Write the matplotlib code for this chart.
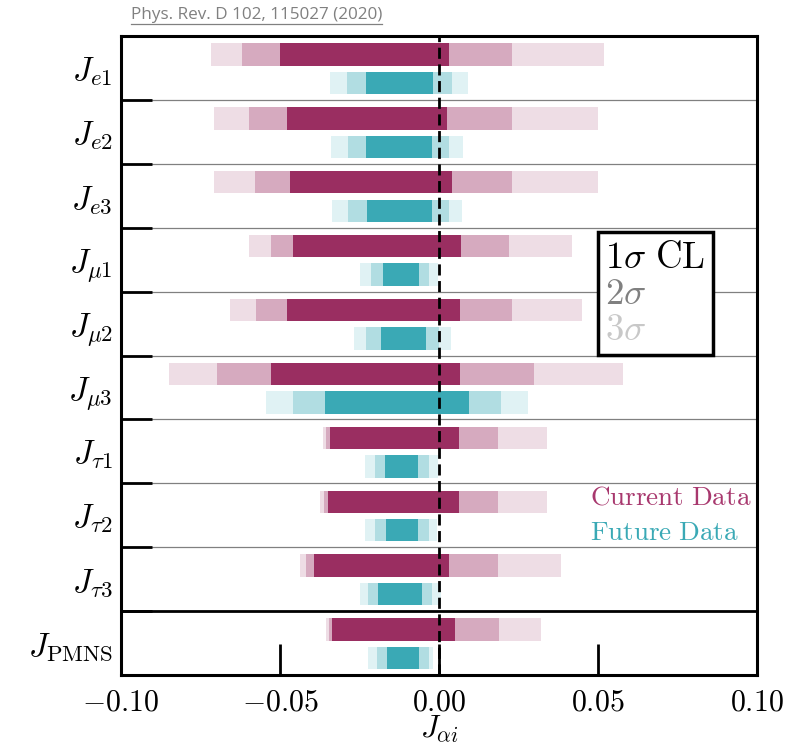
import numpy as np
import matplotlib
matplotlib.use("Agg")
import matplotlib.pyplot as plt
from matplotlib.lines import Line2D

plt.rcParams["mathtext.fontset"] = "cm"
plt.rcParams["font.family"] = ["DejaVu Serif"]

# rows, top to bottom
labels = [r"$J_{e1}$", r"$J_{e2}$", r"$J_{e3}$",
          r"$J_{\mu1}$", r"$J_{\mu2}$", r"$J_{\mu3}$",
          r"$J_{\tau1}$", r"$J_{\tau2}$", r"$J_{\tau3}$",
          r"$J_{\rm PMNS}$"]

# current data intervals
cur_1s_lo = [-0.0499, -0.0479, -0.0469, -0.0459, -0.0479, -0.0529, -0.0343, -0.0349, -0.0393, -0.0335]
cur_1s_hi = [0.0031, 0.0025, 0.0040, 0.0068, 0.0067, 0.0065, 0.0064, 0.0064, 0.0031, 0.0050]
cur_2s_lo = [-0.0618, -0.0598, -0.0579, -0.0529, -0.0574, -0.0698, -0.0354, -0.0362, -0.0418, -0.0346]
cur_2s_hi = [0.0231, 0.0231, 0.0231, 0.0219, 0.0231, 0.0299, 0.0186, 0.0187, 0.0187, 0.0190]
cur_3s_lo = [-0.0716, -0.0708, -0.0708, -0.0598, -0.0658, -0.0849, -0.0365, -0.0373, -0.0438, -0.0354]
cur_3s_hi = [0.0519, 0.0500, 0.0500, 0.0418, 0.0450, 0.0578, 0.0340, 0.0340, 0.0385, 0.0320]

# future data intervals
fut_1s_lo = [-0.0230, -0.0230, -0.0225, -0.0177, -0.0183, -0.0359, -0.0169, -0.0168, -0.0191, -0.0164]
fut_1s_hi = [-0.0018, -0.0022, -0.0022, -0.0063, -0.0040, 0.0094, -0.0065, -0.0066, -0.0054, -0.0064]
fut_2s_lo = [-0.0290, -0.0285, -0.0285, -0.0213, -0.0230, -0.0459, -0.0202, -0.0201, -0.0222, -0.0194]
fut_2s_hi = [0.0042, 0.0030, 0.0030, -0.0030, 0.0000, 0.0194, -0.0031, -0.0032, -0.0023, -0.0031]
fut_3s_lo = [-0.0344, -0.0340, -0.0336, -0.0249, -0.0268, -0.0545, -0.0232, -0.0232, -0.0249, -0.0224]
fut_3s_hi = [0.0090, 0.0075, 0.0071, -0.0003, 0.0039, 0.0279, -0.0003, -0.0006, 0.0006, -0.0018]

cur_colors = ["#9a2e61", "#d6aabf", "#eedde5"]
fut_colors = ["#3aa9b5", "#b1dde2", "#e0f2f4"]

fig = plt.figure(figsize=(7.91, 7.46), dpi=100)
ax = fig.add_axes([0.153, 0.0952, 0.804, 0.8565])

n = len(labels)
rows = np.arange(n)
cur_y = rows + 0.288
fut_y = rows + 0.735
h = 0.35

cur_sets = [(cur_3s_lo, cur_3s_hi), (cur_2s_lo, cur_2s_hi), (cur_1s_lo, cur_1s_hi)]
fut_sets = [(fut_3s_lo, fut_3s_hi), (fut_2s_lo, fut_2s_hi), (fut_1s_lo, fut_1s_hi)]
for k, (lo, hi) in enumerate(cur_sets):
    lo, hi = np.array(lo), np.array(hi)
    ax.barh(cur_y, hi - lo, left=lo, height=h, color=cur_colors[2 - k], zorder=2)
for k, (lo, hi) in enumerate(fut_sets):
    lo, hi = np.array(lo), np.array(hi)
    ax.barh(fut_y, hi - lo, left=lo, height=h, color=fut_colors[2 - k], zorder=2)

# row separators
for b in range(1, n):
    if b == n - 1:
        ax.axhline(b, color="black", lw=2.0, zorder=1)
    else:
        ax.axhline(b, color="#808080", lw=0.9, zorder=1)

ax.axvline(0, color="black", lw=2.0, ls=(0, (4, 2)), zorder=5)

ax.set_xlim(-0.1, 0.1)
ax.set_ylim(n, 0)

ax.set_xticks([-0.1, -0.05, 0, 0.05, 0.1])
ax.set_xticklabels([r"$-0.10$", r"$-0.05$", r"$0.00$", r"$0.05$", r"$0.10$"])
ax.tick_params(axis="x", direction="in", length=22, width=2, labelsize=21.5, pad=10)
ax.set_yticks(np.arange(1, n))
ax.set_yticklabels([])
ax.set_yticks(rows + 0.5, minor=True)
ax.set_yticklabels(labels, minor=True)
ax.tick_params(axis="y", which="major", direction="in", length=22, width=2)
ax.tick_params(axis="y", which="minor", length=0, labelsize=23.5, pad=6)
ax.set_xlabel(r"$J_{\alpha i}$", fontsize=22, labelpad=-2)

for s in ax.spines.values():
    s.set_linewidth(2.2)

# sigma legend
hs = [Line2D([], [], linestyle="none") for _ in range(3)]
leg = ax.legend(hs, [r"$1\sigma\ \mathrm{CL}$", r"$2\sigma$", r"$3\sigma$"],
                loc="upper left", bbox_to_anchor=(0.7495, 0.6928),
                handlelength=0, handletextpad=0, fontsize=26.5,
                fancybox=False, framealpha=1, edgecolor="black",
                labelspacing=0.0, borderpad=0.2, borderaxespad=0)
leg.get_frame().set_linewidth(2.5)
for t, c in zip(leg.get_texts(), ["black", "#808080", "#c8c8c8"]):
    t.set_color(c)

ax.text(0.0476, 7.21, r"$\mathrm{Current\ Data}$", color="#a8386e", fontsize=19.5,
        va="center", ha="left", zorder=6)
ax.text(0.0476, 7.77, r"$\mathrm{Future\ Data}$", color="#3aa9b5", fontsize=19.5,
        va="center", ha="left", zorder=6)

# reference line at top
ref = fig.text(131 / 791, 1 - 15 / 746, "Phys. Rev. D 102, 115027 (2020)",
               color="#808080", fontsize=12.3, family="Open Sans",
               va="center", ha="left")
fig.canvas.draw()
bb = ref.get_window_extent()
fig.add_artist(Line2D([bb.x0 / fig.bbox.width, bb.x1 / fig.bbox.width],
                      [1 - 24 / 746, 1 - 24 / 746], color="#808080", lw=0.9))

fig.savefig("out.png", dpi=100)
